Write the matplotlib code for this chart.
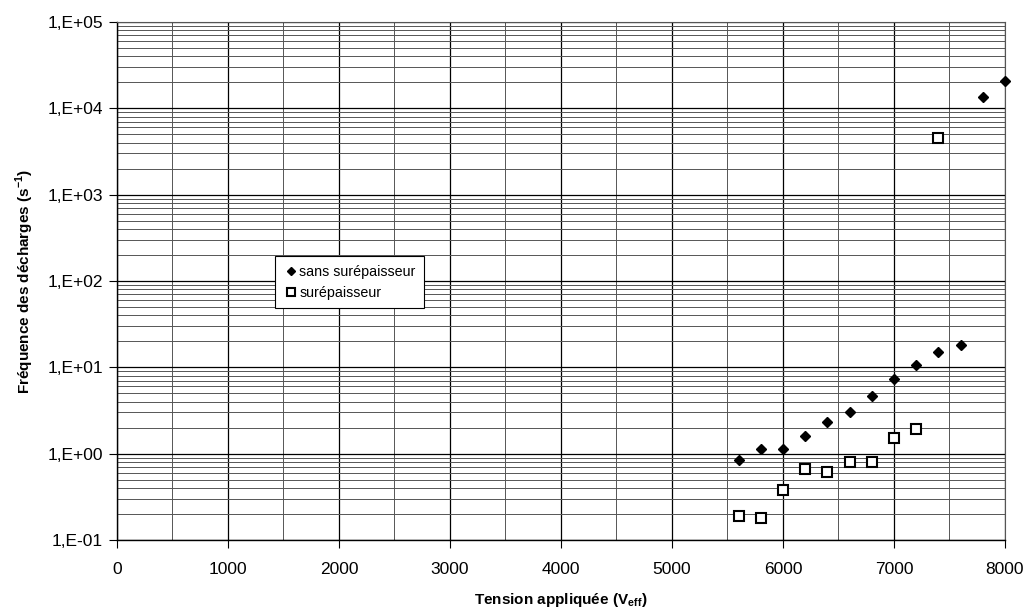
import matplotlib
matplotlib.use("Agg")
import matplotlib.pyplot as plt
from matplotlib.ticker import LogLocator, NullFormatter

plt.rcParams['font.family'] = ['Liberation Sans', 'DejaVu Sans']

x_sans = [5600, 5800, 6000, 6200, 6400, 6600, 6800, 7000, 7200, 7400, 7600, 7800, 8000]
y_sans = [0.85, 1.14, 1.14, 1.6, 2.3, 3.0, 4.7, 7.4, 10.7, 15, 18, 13500, 20500]
x_sur = [5600, 5800, 6000, 6200, 6400, 6600, 6800, 7000, 7200, 7400]
y_sur = [0.19, 0.18, 0.38, 0.67, 0.62, 0.81, 0.81, 1.5, 1.95, 4500]
x_ticks = [0, 1000, 2000, 3000, 4000, 5000, 6000, 7000, 8000]
y_ticks = [1e-1, 1e0, 1e1, 1e2, 1e3, 1e4, 1e5]
y_labels = ['1,E-01', '1,E+00', '1,E+01', '1,E+02', '1,E+03', '1,E+04', '1,E+05']

fig = plt.figure(figsize=(10.26, 6.09), dpi=100)
ax = fig.add_axes([0.114, 0.1133, 0.8655, 0.8506])
ax.set_yscale('log')
ax.set_xlim(0, 8000)
ax.set_ylim(0.1, 1e5)

ax.set_xticks(x_ticks)
ax.set_xticks(range(0, 8001, 500), minor=True)
ax.set_yticks(y_ticks)
ax.set_yticklabels(y_labels)
ax.yaxis.set_minor_locator(LogLocator(base=10, subs=range(2, 10), numticks=20))
ax.yaxis.set_minor_formatter(NullFormatter())

ax.grid(True, which='major', color='black', linewidth=0.9)
ax.grid(True, which='minor', axis='both', color='#555555', linewidth=0.7)
ax.set_axisbelow(True)

ax.tick_params(axis='both', which='major', labelsize=12.5, length=6, direction='out', color='black')
ax.tick_params(axis='x', which='major', pad=10)
ax.tick_params(axis='y', which='major', pad=4)
ax.tick_params(axis='both', which='minor', length=0)
for s in ['top', 'right']:
    ax.spines[s].set_color('#555555')
    ax.spines[s].set_linewidth(0.8)
ax.spines['left'].set_linewidth(1.0)
ax.spines['bottom'].set_linewidth(1.0)

ax.plot(x_sans, y_sans, linestyle='none', marker='D', markersize=5.5, color='black',
        label='sans surépaisseur', clip_on=False, zorder=5)
ax.plot(x_sur, y_sur, linestyle='none', marker='s', markersize=6.5, markerfacecolor='white',
        markeredgecolor='black', markeredgewidth=1.5, label='surépaisseur', clip_on=False, zorder=5)

leg = ax.legend(loc='upper left', bbox_to_anchor=(0.17, 0.562), fontsize=10.3,
                frameon=True, fancybox=False, edgecolor='black', framealpha=1,
                handletextpad=0.1, handlelength=1.0, borderpad=0.6, labelspacing=0.5,
                markerscale=0.8)
leg.get_frame().set_linewidth(0.8)

ax.set_xlabel('Tension appliquée (V$_{\\mathregular{eff}}$)', fontsize=11, fontweight='bold', labelpad=10)
ax.set_ylabel('Fréquence des décharges (s$^{\\mathregular{-1}}$)', fontsize=11, fontweight='bold', labelpad=8)

fig.savefig('out.png', dpi=100)
